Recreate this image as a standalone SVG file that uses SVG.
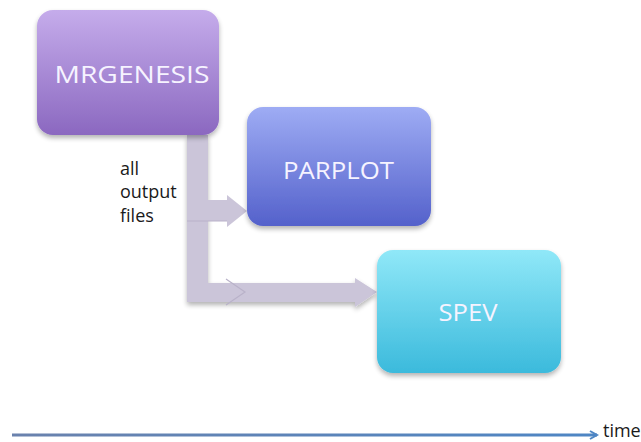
<svg xmlns="http://www.w3.org/2000/svg" width="641" height="442" viewBox="0 0 641 442">
<style>
.box-label{font-family:"Open Sans","Liberation Sans",sans-serif;fill:#f6f3ff;text-anchor:middle;font-size:23px}
.note{font-family:"Open Sans","Liberation Sans",sans-serif;fill:#1a1a1a;font-size:18px}
.conn{fill:#cbc5d9}
.seam{fill:none;stroke:#b9b2c9;stroke-width:1.2}
</style>
<defs>
<linearGradient id="gM" x1="0" y1="0" x2="0" y2="1"><stop offset="0" stop-color="#c5aceb"/><stop offset="1" stop-color="#8b68c0"/></linearGradient>
<linearGradient id="gP" x1="0" y1="0" x2="0" y2="1"><stop offset="0" stop-color="#9eacf4"/><stop offset="1" stop-color="#5461cb"/></linearGradient>
<linearGradient id="gS" x1="0" y1="0" x2="0" y2="1"><stop offset="0" stop-color="#90e8f8"/><stop offset="1" stop-color="#3bbadc"/></linearGradient>
<linearGradient id="gT" gradientUnits="userSpaceOnUse" x1="12" y1="0" x2="596" y2="0"><stop offset="0" stop-color="#6a82ad"/><stop offset="1" stop-color="#4e86c4"/></linearGradient>
<filter id="sh" x="-10%" y="-10%" width="120%" height="125%"><feGaussianBlur in="SourceAlpha" stdDeviation="2.5"/><feOffset dy="3"/><feComponentTransfer><feFuncA type="linear" slope="0.3"/></feComponentTransfer><feMerge><feMergeNode/><feMergeNode in="SourceGraphic"/></feMerge></filter>
<marker id="ah" markerWidth="12" markerHeight="12" refX="9" refY="6" orient="auto" markerUnits="userSpaceOnUse"><path d="M2,2 L9,6 L2,10" fill="none" stroke="#4f86c4" stroke-width="2"/></marker>
</defs>
<g id="connectors">
<path class="conn" filter="url(#sh)" d="M187,135 L187,302 L355,302 L355,307 L377,292 L355,278 L355,283 L208,283 L208,135 Z"/>
<path class="conn" d="M187,135 L187,221 L227,221 L227,227 L247,211 L227,195 L227,200 L208,200 L208,135 Z"/>
<path class="seam" d="M226,279 L245,292 L226,305"/>
<path class="seam" d="M187,221 L227,221"/>
<path d="M12,435 L597,435" fill="none" stroke="url(#gT)" stroke-width="3" marker-end="url(#ah)"/>
</g>
<g id="mrgenesis">
<rect x="37" y="10" width="182" height="125" rx="16" fill="url(#gM)" filter="url(#sh)"/>
<text class="box-label" x="132" y="83" textLength="155" lengthAdjust="spacingAndGlyphs">MRGENESIS</text>
</g>
<g id="parplot">
<rect x="247" y="107" width="184" height="119" rx="16" fill="url(#gP)" filter="url(#sh)"/>
<text class="box-label" x="338.5" y="179" textLength="111" lengthAdjust="spacingAndGlyphs">PARPLOT</text>
</g>
<g id="spev">
<rect x="377" y="250" width="184" height="123" rx="16" fill="url(#gS)" filter="url(#sh)"/>
<text class="box-label" x="468" y="321" textLength="59" lengthAdjust="spacingAndGlyphs">SPEV</text>
</g>
<g id="note">
<text class="note" x="120" y="175">all</text>
<text class="note" x="120" y="198">output</text>
<text class="note" x="120" y="222">files</text>
</g>
<g id="time-label">
<text class="note" x="603" y="437">time</text>
</g>
</svg>
